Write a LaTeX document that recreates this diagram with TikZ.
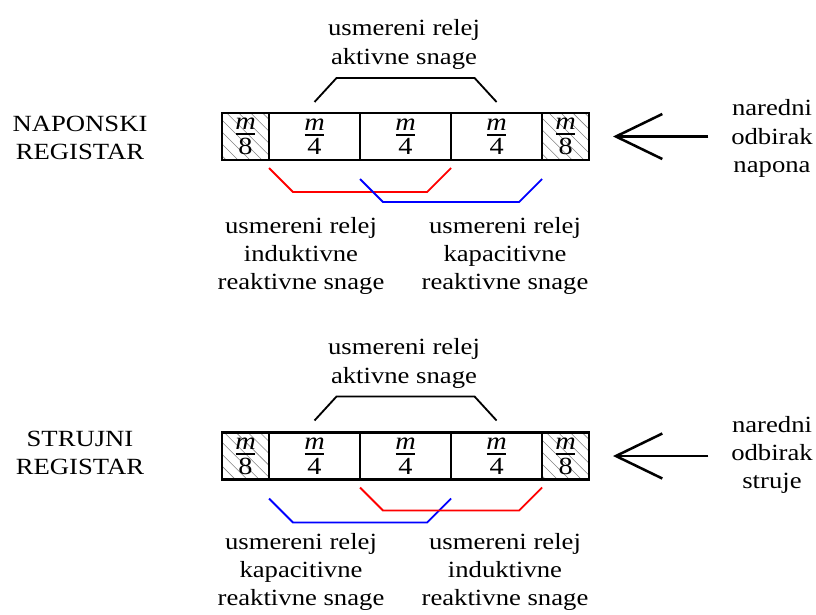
\documentclass[tikz,border=0pt]{standalone}
\usepackage{fontspec}
\setmainfont{Liberation Serif}[FakeStretch=1.15]
\usetikzlibrary{positioning,calc,patterns.meta,arrows.meta}

\newcommand{\frc}[1]{\shortstack{\textit{m}\\[-0.5pt]\rule{0.8em}{1.4pt}\\[-1pt]#1}}

\tikzset{
  cell/.style={draw, line width=1.7pt, minimum width=2.275cm, minimum height=1.175cm,
    inner sep=0pt, outer sep=0pt, font=\fontsize{17.5}{20}\selectfont},
  edgecell/.style={cell, minimum width=1.175cm,
    pattern={Lines[angle=-45,distance=6pt,line width=0.4pt]}, pattern color=gray},
  relay/.style={line width=1.3pt},
  txt/.style={align=center, inner sep=2pt, font=\fontsize{16.5}{20}\selectfont},
  input/.style={line width=1.8pt, -{Straight Barb[length=33pt,width=32pt]}},
}

\begin{document}
\begin{tikzpicture}[x=0.025cm, y=-0.025cm]
\useasboundingbox (0,0) rectangle (816,614);

% Registers
\foreach \r/\yy in {n/136.5, s/456}{
  \node[edgecell, anchor=west] (\r1) at (222,\yy) {\frc{8}};
  \node[cell, right=0pt of \r1] (\r2) {\frc{4}};
  \node[cell, right=0pt of \r2] (\r3) {\frc{4}};
  \node[cell, right=0pt of \r3] (\r4) {\frc{4}};
  \node[edgecell, right=0pt of \r4] (\r5) {\frc{8}};
}

% Register names
\node[txt] (napreg) at (80,138) {NAPONSKI\\REGISTAR};
\node[txt] (strreg) at (80,453) {STRUJNI\\REGISTAR};

% Relay labels
\node[txt] (nakt) at (404,44.5) {usmereni relej\\aktivne snage};
\node[txt] (nind) at (301,256) {usmereni relej\\induktivne\\reaktivne snage};
\node[txt] (nkap) at (505,256) {usmereni relej\\kapacitivne\\reaktivne snage};
\node[txt] (sakt) at (404,363.5) {usmereni relej\\aktivne snage};
\node[txt] (skap) at (301,572) {usmereni relej\\kapacitivne\\reaktivne snage};
\node[txt] (sind) at (505,572) {usmereni relej\\induktivne\\reaktivne snage};

% Next samples
\node[txt] (nsmp) at (772,138.5) {naredni\\odbirak\\napona};
\node[txt] (ssmp) at (772,455) {naredni\\odbirak\\struje};
\draw[input, shorten <=14pt, shorten >=17pt] (nsmp.west |- n5.east) -- (n5.east);
\draw[input, shorten <=14pt, shorten >=17pt] (ssmp.west |- s5.east) -- (s5.east);

% Relay windows, voltage register
\draw[relay] ($(n2.north)+(0,-11)$) -- ++(22,-24) -- ($(n4.north)+(-22,-35)$) -- ($(n4.north)+(0,-11)$);
\draw[relay, red] ($(n1.south east)+(0,8)$) -- ++(24,24) -- ($(n3.south east)+(-24,32)$) -- ($(n3.south east)+(0,8)$);
\draw[relay, blue] ($(n2.south east)+(0,19)$) -- ++(23,23) -- ($(n4.south east)+(-23,42)$) -- ($(n4.south east)+(0,19)$);

% Relay windows, current register
\draw[relay] ($(s2.north)+(0,-12)$) -- ++(22,-24) -- ($(s4.north)+(-22,-36)$) -- ($(s4.north)+(0,-12)$);
\draw[relay, blue] ($(s1.south east)+(0,19)$) -- ++(24,24) -- ($(s3.south east)+(-24,43)$) -- ($(s3.south east)+(0,19)$);
\draw[relay, red] ($(s2.south east)+(0,8)$) -- ++(23,23) -- ($(s4.south east)+(-23,31)$) -- ($(s4.south east)+(0,8)$);
\end{tikzpicture}
\end{document}
